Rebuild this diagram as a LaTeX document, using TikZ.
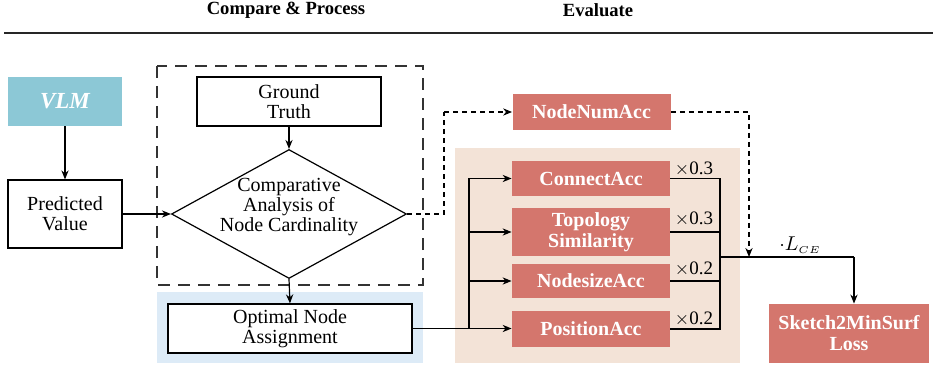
\documentclass[tikz,border=0pt]{standalone}
\usepackage{fontspec}
\setmainfont{Liberation Serif}
\usetikzlibrary{shapes.geometric,arrows.meta,positioning}
\definecolor{vlmblue}{HTML}{8CC8D6}
\definecolor{accred}{HTML}{D4766D}
\definecolor{regionblue}{HTML}{DDEBF7}
\definecolor{regionbeige}{HTML}{F3E3D7}
\tikzset{
  px/.style={x=0.5pt,y=-0.5pt},
  plainbox/.style={draw=black,line width=0.6pt,fill=white,align=center,inner sep=0pt,
    font=\fontsize{10}{10}\selectfont},
  accbox/.style={fill=accred,text=white,align=center,inner sep=0pt,minimum width=79pt,
    font=\fontsize{10}{10.5}\selectfont\bfseries},
  arr/.style={-{Stealth[length=4.5pt,width=3.6pt]},line width=0.6pt},
  wire/.style={line width=0.6pt},
  dotline/.style={line width=0.6pt,dash pattern=on 2.5pt off 2pt},
  weight/.style={font=\fontsize{9.5}{10}\selectfont,inner sep=1pt,anchor=south},
  heading/.style={font=\fontsize{9.3}{10}\selectfont\bfseries},
}
\begin{document}
\begin{tikzpicture}[px]
\useasboundingbox (0,0) rectangle (933,369);

% headings and rule
\node[heading] (hcmp) at (286,10) {Compare \& Process};
\node[heading] (heval) at (598,10) {Evaluate};
\draw[line width=1.1pt,black!85] (4,33) -- (933,33);

% background regions
\fill[regionblue] (157,292) rectangle (423,363);
\fill[regionbeige] (455,148) rectangle (740,363);
\draw[line width=0.6pt,dash pattern=on 6pt off 4pt,black!80] (157,66) rectangle (423,285);

% left column
\node[fill=vlmblue,text=white,inner sep=0pt,minimum width=57pt,minimum height=24.5pt,
  font=\fontsize{11.5}{12}\selectfont\bfseries\itshape] (vlm) at (65,101.5) {VLM};
\node[plainbox,minimum width=57pt,minimum height=34pt] (pred) at (65,214) {Predicted\\Value};

% compare block
\node[plainbox,minimum width=92pt,minimum height=24.5pt] (gt) at (289,101.5) {Ground\\Truth};
\node[draw=black,line width=0.6pt,fill=white,shape=diamond,inner sep=0pt,
  minimum width=117.5pt,minimum height=64.5pt] (cmp) at (289,214) {};
\node[align=center,inner sep=0pt,font=\fontsize{10}{10}\selectfont] (cmptxt) at (289,207)
  {Comparative\\Analysis of\\Node Cardinality};
\node[plainbox,minimum width=122pt,minimum height=24.5pt] (ona) at (290,328.5) {Optimal Node\\Assignment};

% metric boxes
\node[accbox,minimum height=18pt] (nna) at (591.5,112) {NodeNumAcc};
\node[accbox,minimum height=17.5pt] (con) at (591,178.5) {ConnectAcc};
\node[accbox,minimum height=24pt] (top) at (591,232) {Topology\\Similarity};
\node[accbox,minimum height=17pt] (nsz) at (591,281) {NodesizeAcc};
\node[accbox,minimum height=18pt] (pos) at (591,329) {PositionAcc};
\node[accbox,minimum width=80pt,minimum height=29.5pt] (loss) at (849,333.5) {Sketch2MinSurf\\Loss};

% junction points
\coordinate (fork) at (469,328.5);
\coordinate (sum) at (720,257);
\coordinate (lce) at (854,257);
\coordinate (nnturn) at (444,112);

% flow
\draw[arr] (vlm) -- (pred);
\draw[arr] (pred.east) -- (cmp.west);
\draw[arr] (gt) -- (cmp.north);
\draw[arr] (cmp.south) -- (ona.north);

% dashed path to NodeNumAcc
\draw[dotline] (cmp.east) -| (nnturn);
\draw[dotline,-{Stealth[length=4.5pt,width=3.6pt]}] (nnturn) -- (nna.west);
\draw[dotline,-{Stealth[length=4.5pt,width=3.6pt]}] (nna.east) -| (sum -| 749,0);

% fan-out from the assignment
\draw[wire] (ona.east) -- (fork);
\draw[arr] (fork) |- (con.west);
\draw[arr] (fork) |- (top.west);
\draw[arr] (fork) |- (nsz.west);
\draw[arr] (fork) -- (pos.west |- fork);

% weighted sum
\draw[wire] (con.east) -| (sum);
\draw[wire] (top.east) -| (sum);
\draw[wire] (nsz.east) -| (sum);
\draw[wire] (pos.east) -| (sum);
\node[weight] (w1) at (694,178.5) {$\times$0.3};
\node[weight] (w2) at (694,229) {$\times$0.3};
\node[weight] (w3) at (694,279) {$\times$0.2};
\node[weight] (w4) at (694,329) {$\times$0.2};

\draw[wire] (sum) -- (lce);
\draw[arr] (lce) -- (lce |- loss.north);
\node[font=\fontsize{10}{10}\selectfont,anchor=south,inner sep=1.5pt] (lcelab) at (800,257)
  {$\cdot L_{\scriptscriptstyle CE}$};
\end{tikzpicture}
\end{document}
